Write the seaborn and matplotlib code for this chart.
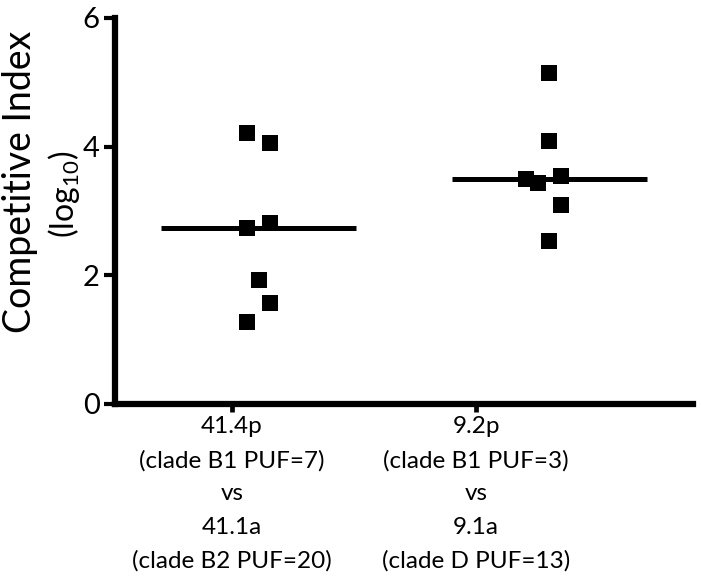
import numpy as np
import pandas as pd
import seaborn as sns
import matplotlib.pyplot as plt

# Values (log10 competitive index)
group_labels = [
    "41.4p\n(clade B1 PUF=7)\nvs\n41.1a\n(clade B2 PUF=20)",
    "9.2p\n(clade B1 PUF=3)\nvs\n9.1a\n(clade D PUF=13)",
]
pair1_ci = [4.22, 4.06, 2.73, 2.81, 1.92, 1.57, 1.27]
pair2_ci = [5.15, 4.09, 3.50, 3.43, 3.55, 3.10, 2.54]

# column of each dot inside its cluster (scatter dot layout)
pair1_col = [-1, 1, -1, 1, 0, 1, -1]
pair2_col = [0, 0, -2, -1, 1, 1, 0]

sns.set_theme(style="ticks")
plt.rcParams["font.family"] = ["Lato", "DejaVu Sans"]
plt.rcParams["mathtext.fontset"] = "custom"
plt.rcParams["mathtext.rm"] = "Lato"
plt.rcParams["text.color"] = "black"

# cluster centre for each group and spacing between dot columns
centres = [0.11, 1.30]
col_step = 0.047
tick_pos = [0, 1]

df = pd.DataFrame({
    "group": [0] * len(pair1_ci) + [1] * len(pair2_ci),
    "ci": pair1_ci + pair2_ci,
    "col": pair1_col + pair2_col,
})
df["x"] = [centres[g] + c * col_step for g, c in zip(df["group"], df["col"])]

fig = plt.figure(figsize=(7.01, 5.86), dpi=100)
ax = fig.add_axes([0.164, 0.3106, 0.8245, 0.6587])

sns.scatterplot(
    data=df, x="x", y="ci",
    marker="s", s=133, color="black", linewidth=0,
    legend=False, ax=ax, clip_on=False, zorder=3
)

# median lines
for g, vals in enumerate([pair1_ci, pair2_ci]):
    ax.hlines(np.median(vals), centres[g] - 0.40, centres[g] + 0.40,
              color="black", linewidth=3.6, zorder=2)

ax.set_xlim(-0.48, 1.889)
ax.set_ylim(0, 6)
ax.set_yticks([0, 2, 4, 6])
ax.set_xticks(tick_pos)
ax.set_xticklabels([])
ax.set_xlabel("")
ax.set_ylabel("")

# multi-line group labels under the ticks
for xp, lab in zip(tick_pos, group_labels):
    ax.text(xp, -0.031, lab, transform=ax.get_xaxis_transform(),
            ha="center", va="top", fontsize=17.5, linespacing=1.72)

sns.despine(ax=ax)
for side in ["left", "bottom"]:
    ax.spines[side].set_linewidth(4.5)
    ax.spines[side].set_color("black")

ax.tick_params(axis="y", length=8, width=3, labelsize=21, pad=3, colors="black")
ax.tick_params(axis="x", length=6, width=3.4, colors="black")

fig.text(20 / 701, 1 - 182 / 586, "Competitive Index", rotation=90,
         fontsize=27, ha="center", va="center")
fig.text(64 / 701, 1 - 194 / 586, "(log$_{10}$)", rotation=90,
         fontsize=23, ha="center", va="center")

plt.savefig("out.png", dpi=100)
